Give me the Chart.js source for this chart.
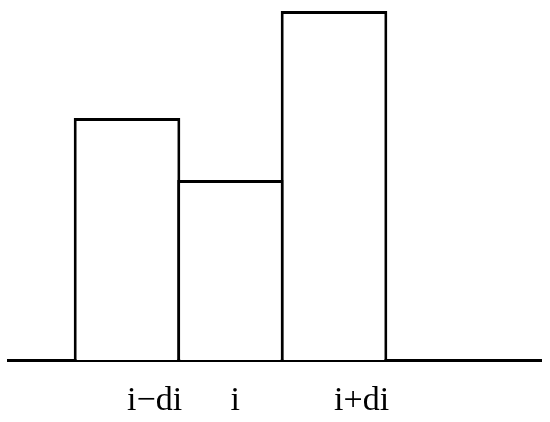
<!DOCTYPE html>
<html>
<head>
<meta charset="utf-8">
<script src="https://cdn.jsdelivr.net/npm/chart.js@4"></script>
<style>
  html, body { margin: 0; padding: 0; background: #fff; }
  #wrap { width: 550px; height: 422px; }
</style>
</head>
<body>
<div id="wrap"><canvas id="chart"></canvas></div>
<script>
// Bar positions (index units), labels and heights
const barPositions = [0, 1, 2];
const tickLabels = ['i\u2212di', 'i', 'i+di'];
const barHeights = [2.42, 1.80, 3.49];

const ctx = document.getElementById('chart').getContext('2d');

new Chart(ctx, {
  type: 'bar',
  data: {
    datasets: [{
      data: barPositions.map((x, i) => ({ x: x, y: barHeights[i] })),
      backgroundColor: '#ffffff',
      borderColor: '#000000',
      borderWidth: 3,
      borderSkipped: 'start',
      categoryPercentage: 1,
      barPercentage: 1.03
    }]
  },
  options: {
    responsive: true,
    maintainAspectRatio: false,
    animation: false,
    layout: { padding: { left: 8, right: 9, top: 0, bottom: 0 } },
    plugins: {
      legend: { display: false },
      tooltip: { enabled: false }
    },
    scales: {
      x: {
        type: 'linear',
        offset: false,
        min: -1.15,
        max: 4,
        z: 1,
        grid: { display: false, drawTicks: false },
        border: { display: true, color: '#000000', width: 3 },
        afterBuildTicks: (scale) => {
          scale.ticks = barPositions.map(v => ({ value: v }));
        },
        afterFit: (scale) => { scale.height = 62; },
        ticks: {
          align: 'start',
          padding: 21,
          color: '#000000',
          font: { family: '"Liberation Serif", "DejaVu Serif", serif', size: 34 },
          callback: (value, index) => tickLabels[index]
        }
      },
      y: {
        display: false,
        min: 0,
        max: 3.6
      }
    }
  }
});
</script>
</body>
</html>
